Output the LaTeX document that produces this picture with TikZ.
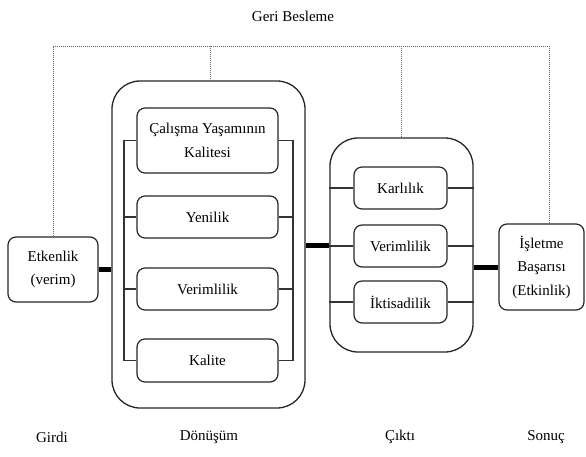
\documentclass[tikz,border=0pt]{standalone}
\usepackage{fontspec}
\setmainfont{Liberation Serif}
\begin{document}
\begin{tikzpicture}[x=1pt,y=-1pt,
  box/.style={draw=black!85, line width=1.2pt, rounded corners=8pt, align=center, inner sep=0pt,
    font=\fontsize{15}{23.5}\selectfont, text=black},
  outer/.style={draw=black!85, line width=1.3pt, rounded corners=28pt, inner sep=0pt},
  lbl/.style={font=\fontsize{15}{17}\selectfont, text=black},
  thin/.style={draw=black!80, line width=1.2pt},
  thick/.style={draw=black, line width=5pt},
  fb/.style={draw=black!60, line width=0.8pt, dash pattern=on 1.2pt off 0.8pt}]
\useasboundingbox (0,0) rectangle (586,457);

% outer containers
\node[outer, minimum width=193pt, minimum height=327pt] (o1) at (208.5,244.5) {};
\node[outer, minimum width=143pt, minimum height=214pt] (o2) at (401.5,245) {};

% input / result
\node[box, minimum width=90pt, minimum height=65pt] (girdi) at (53,269.5) {Etkenlik\\(verim)};
\node[box, minimum width=85pt, minimum height=86pt] (sonuc) at (541.5,267) {İşletme\\Başarısı\\(Etkinlik)};

% transformation boxes
\node[box, minimum width=141pt, minimum height=65pt] (c1) at (207.5,140.5) {Çalışma Yaşamının\\Kalitesi};
\node[box, minimum width=141pt, minimum height=42pt] (c2) at (207.5,217) {Yenilik};
\node[box, minimum width=141pt, minimum height=42pt] (c3) at (207.5,289) {Verimlilik};
\node[box, minimum width=141pt, minimum height=43pt] (c4) at (207.5,360.5) {Kalite};

% output boxes
\node[box, minimum width=93pt, minimum height=42pt] (k1) at (400.5,188) {Karlılık};
\node[box, minimum width=93pt, minimum height=42pt] (k2) at (400.5,246) {Verimlilik};
\node[box, minimum width=93pt, minimum height=42pt] (k3) at (400.5,302) {İktisadilik};

% buses inside Dönüşüm
\coordinate (busL) at (124,0);
\coordinate (busR) at (293,0);
\draw[thin] (c1.west) -- (c1.west -| busL) -- (c4.west -| busL) -- (c4.west);
\draw[thin] (c2.west) -- (c2.west -| busL);
\draw[thin] (c3.west) -- (c3.west -| busL);
\draw[thin] (c1.east) -- (c1.east -| busR) -- (c4.east -| busR) -- (c4.east);
\draw[thin] (c2.east) -- (c2.east -| busR);
\draw[thin] (c3.east) -- (c3.east -| busR);

% connectors inside Çıktı
\foreach \k in {k1,k2,k3}{
  \draw[thin] (\k.west) -- (\k.west -| o2.west);
  \draw[thin] (\k.east) -- (\k.east -| o2.east);
}

% thick flow connectors
\draw[thick] (girdi.east) -- (girdi.east -| o1.west);
\draw[thick] (o1.east |- 0,245) -- (o2.west |- 0,245);
\draw[thick] (o2.east |- sonuc.west) -- (sonuc.west);

% feedback
\coordinate (fL) at (53,46);
\coordinate (fR) at (549,46);
\coordinate (f1) at (210,46);
\coordinate (f2) at (401,46);
\draw[fb] (girdi.north -| fL) -- (fL) -- (fR) -- (sonuc.north -| fR);
\draw[fb] (f1) -- (f1 |- o1.north);
\draw[fb] (f2) -- (f2 |- o2.north);

% labels
\node[lbl] (gb) at (293,16) {Geri Besleme};
\node[lbl] (l1) at (52,437) {Girdi};
\node[lbl] (l2) at (209,437) {Dönüşüm};
\node[lbl] (l3) at (400,437) {Çıktı};
\node[lbl] (l4) at (546,437) {Sonuç};
\end{tikzpicture}
\end{document}
